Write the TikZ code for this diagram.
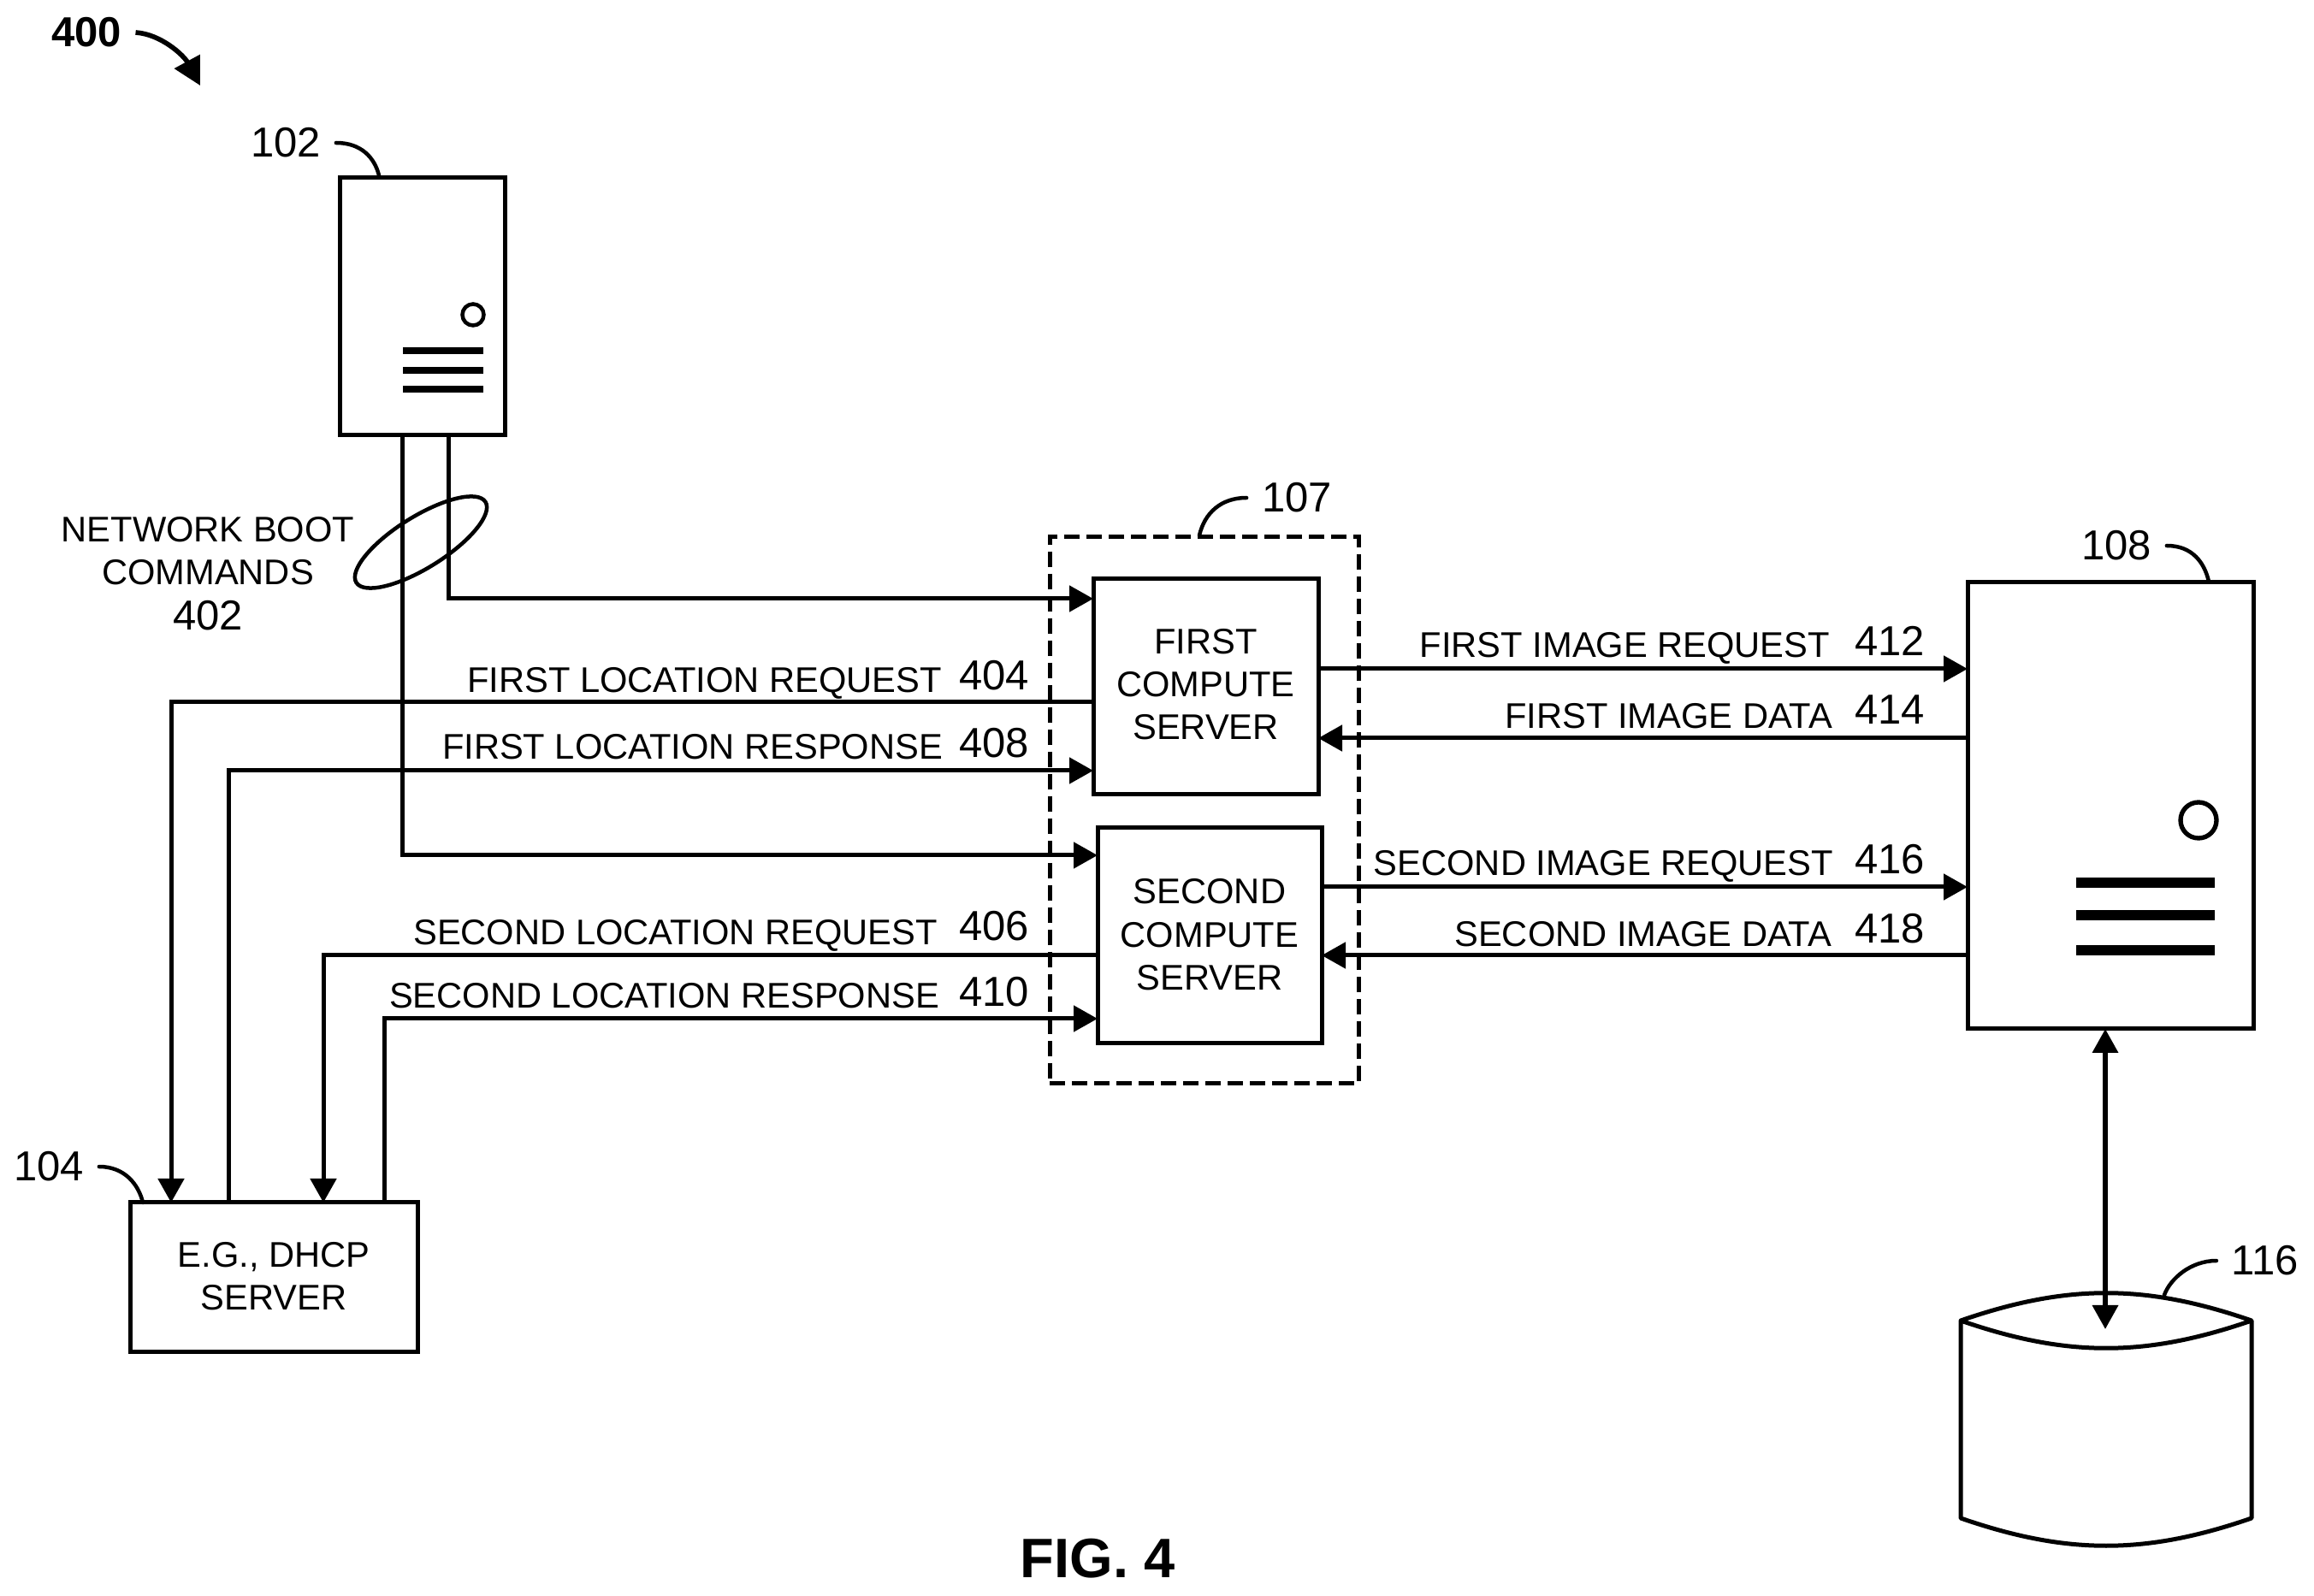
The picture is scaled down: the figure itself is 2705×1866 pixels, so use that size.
\documentclass[tikz,border=0pt]{standalone}
\usepackage{fontspec}
\setmainfont{Liberation Sans}
\usetikzlibrary{arrows.meta,shapes.geometric}
\tikzset{
  x=0.3pt,y=-0.3pt,
  every node/.style={inner sep=0pt,outer sep=0pt},
  txt/.style={font=\fontsize{12.5}{15.1}\selectfont,align=center},
  btxt/.style={txt,text depth=1.8pt},
  ctxt/.style={txt,text depth=0.8pt},
  lab/.style={font=\fontsize{12.5}{15.1}\selectfont,anchor=base east},
  num/.style={font=\fontsize{14.7}{16}\selectfont,anchor=base west},
  ref/.style={font=\fontsize{14.7}{16}\selectfont},
  box/.style={draw,rectangle,line width=1.5pt},
  conn/.style={line width=1.5pt},
  arr/.style={line width=1.5pt,-{Triangle[length=8.4pt,width=9pt]}},
  barr/.style={line width=1.7pt,{Triangle[length=8.4pt,width=8.8pt]}-{Triangle[length=8.4pt,width=8.8pt]}},
  lead/.style={line width=1.35pt,line cap=round}
}
\begin{document}
\begin{tikzpicture}
\path[fill=white,use as bounding box] (0,0) rectangle (2705,1866);
% levels
\coordinate (xA) at (470,0);
\coordinate (xB) at (524,0);
\coordinate (x404) at (200,0);
\coordinate (x408) at (267,0);
\coordinate (x406) at (378,0);
\coordinate (x410) at (449,0);
\coordinate (xD) at (2461,0);
\coordinate (yB) at (0,700);
\coordinate (yA) at (0,1000);
\coordinate (y404) at (0,821);
\coordinate (y408) at (0,901);
\coordinate (y406) at (0,1117);
\coordinate (y410) at (0,1191);
\coordinate (y412) at (0,782);
\coordinate (y414) at (0,863);
\coordinate (y416) at (0,1037);
\coordinate (y418) at (0,1117);
% group
\node[draw,rectangle,dash pattern=on 5.4pt off 2.4pt,line width=1.5pt,minimum width={361*0.3pt},minimum height={639*0.3pt}] (grp) at (1407.5,947.5) {};
% boxes
\node[box,minimum width={193*0.3pt},minimum height={301*0.3pt}] (srvA) at (493.5,358) {};
\node[box,minimum width={263*0.3pt},minimum height={252*0.3pt},btxt] (first) at (1409.5,803) {FIRST\\COMPUTE\\SERVER};
\node[box,minimum width={262*0.3pt},minimum height={252*0.3pt},ctxt] (second) at (1414,1094) {SECOND\\COMPUTE\\SERVER};
\node[box,minimum width={334*0.3pt},minimum height={522*0.3pt}] (srvB) at (2467,942) {};
\node[box,minimum width={336*0.3pt},minimum height={174*0.3pt},ctxt] (dhcp) at (320,1493) {E.G., DHCP\\SERVER};
% server details
\node[draw,circle,line width=1.35pt,minimum size={25*0.3pt}] (ledA) at (553,368) {};
\draw[line width=2.3pt] (471,410) -- (565,410) (471,433) -- (565,433) (471,455) -- (565,455);
\node[draw,circle,line width=1.6pt,minimum size={42*0.3pt}] (ledB) at (2570,959) {};
\draw[line width=3.6pt] (2427,1032) -- (2589,1032) (2427,1070) -- (2589,1070) (2427,1111) -- (2589,1111);
% cylinder
\draw[line width=1.5pt,line join=round] (2292,1544) .. controls (2416,1501) and (2508,1501) .. (2632,1544)
  .. controls (2508,1587) and (2416,1587) .. (2292,1544) -- (2292,1775)
  .. controls (2416,1818) and (2508,1818) .. (2632,1775) -- (2632,1544);
\coordinate (cyl) at (2461,1554);
% connectors
\draw[conn] (srvA.south -| xA) -- (xA |- yA);
\draw[arr] (srvA.south -| xA) |- (second.west |- yA);
\draw[arr] (srvA.south -| xB) |- (first.west |- yB);
\draw[arr] (first.west |- y404) -| (dhcp.north -| x404);
\draw[arr] (dhcp.north -| x408) |- (first.west |- y408);
\draw[arr] (second.west |- y406) -| (dhcp.north -| x406);
\draw[arr] (dhcp.north -| x410) |- (second.west |- y410);
\draw[arr] (first.east |- y412) -- (srvB.west |- y412);
\draw[arr] (srvB.west |- y414) -- (first.east |- y414);
\draw[arr] (second.east |- y416) -- (srvB.west |- y416);
\draw[arr] (srvB.west |- y418) -- (second.east |- y418);
\draw[barr] (srvB.south -| xD) -- (cyl);
% ellipse
\node[draw,ellipse,line width=1.35pt,rotate=32,minimum width={178*0.3pt},minimum height={60*0.3pt}] (loop) at (492,634) {};
% labels
\node[txt] (boot) at (243,644) {NETWORK BOOT\\COMMANDS};
\node[ref] (n402) at (243,720) {402};
\node[lab] (l404) at (1101,810) {FIRST LOCATION REQUEST};
\node[lab] (l408) at (1102,888) {FIRST LOCATION RESPONSE};
\node[lab] (l406) at (1096,1105) {SECOND LOCATION REQUEST};
\node[lab] (l410) at (1098,1179) {SECOND LOCATION RESPONSE};
\node[num] (n404) at (1121,807) {404};
\node[num] (n408) at (1121,886) {408};
\node[num] (n406) at (1121,1100) {406};
\node[num] (n410) at (1121,1177) {410};
\node[lab] (l412) at (2139,769) {FIRST IMAGE REQUEST};
\node[lab] (l414) at (2142,852) {FIRST IMAGE DATA};
\node[lab] (l416) at (2143,1024) {SECOND IMAGE REQUEST};
\node[lab] (l418) at (2141,1107) {SECOND IMAGE DATA};
\node[num] (n412) at (2168,767) {412};
\node[num] (n414) at (2168,847) {414};
\node[num] (n416) at (2168,1022) {416};
\node[num] (n418) at (2168,1103) {418};
\node[ref] (r102) at (334,167) {102};
\node[ref] (r104) at (57,1364) {104};
\node[ref] (r107) at (1516,582) {107};
\node[ref] (r108) at (2474,638) {108};
\node[ref] (r116) at (2648,1474) {116};
\node[font=\bfseries\fontsize{14.7}{16}\selectfont] (r400) at (101,38) {400};
\node[font=\bfseries\fontsize{19.5}{22}\selectfont] (fig) at (1283,1822) {FIG. 4};
% leaders
\draw[lead] ([xshift=5.4pt]r102.east) .. controls +(30,0) and (438,185) .. (443,205);
\draw[lead] ([xshift=5.4pt]r104.east) .. controls +(30,0) and (162,1385) .. (167,1406);
\draw[lead] ([xshift=-5.4pt]r107.west) .. controls +(-30,0) and (1408,600) .. (1402,626);
\draw[lead] ([xshift=5.4pt]r108.east) .. controls +(30,0) and (2577,658) .. (2582,680);
\draw[lead] ([xshift=-5.4pt]r116.west) .. controls +(-30,0) and (2537,1495) .. (2530,1514);
\draw[line width=1.7pt,-{Triangle[length=9.6pt,width=9.9pt]}] ([xshift=5pt]r400.east) .. controls +(30,2) and (215,65) .. (234,100);
\end{tikzpicture}
\end{document}
